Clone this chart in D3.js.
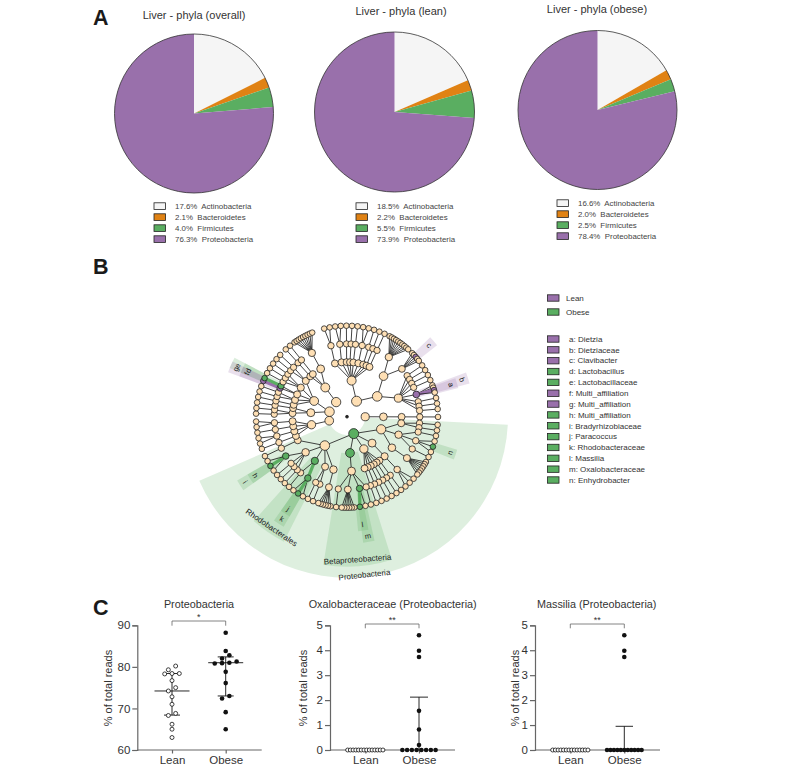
<!DOCTYPE html>
<html><head><meta charset="utf-8">
<script src="https://cdn.jsdelivr.net/npm/d3@7"></script>
<style>html,body{margin:0;background:#fff}svg{display:block;font-family:"Liberation Sans",Arial,sans-serif}</style>
</head><body><svg id="c" width="787" height="770"></svg>
<script>
// ---- Panel A data
const phylaNames = ["Actinobacteria","Bacteroidetes","Firmicutes","Proteobacteria"];
const phylaColors = ["#f5f5f5","#e08214","#5aae61","#9970ab"];
const pieTitles = ["Liver - phyla (overall)","Liver - phyla (lean)","Liver - phyla (obese)"];
const overallValues = [17.6,2.1,4.0,76.3];
const leanValues = [18.5,2.2,5.5,73.9];
const obeseValues = [16.6,2.0,2.5,78.4];

// ---- Panel B data: phylum = list of classes, class = list of orders, order = list of families; a number = genera in that family
const cladeActino = [
  [ [2], [2], [1], [1], [1], [2], [1], [1], [1] ],
  [ [10,5], [1,1,1,1,4,1,1,1] ]
];
const cladeSmall = [ [ [1] ] ];
const cladeProteo = [
  [ [1,1], [1,3,1], [7] ],
  [ [3] ],
  [ [1], [1], [1], [1], [1], [1] ],
  [ [1,2,6,1] ],
  [ [6], [1,1], [3,1], [1,1,1,3], [1] ]
];
const cladeLeftA = [ [ [1], [2], [1], [2] ] ];
const cladeLeftB = [ [ [1,1], [1] ], [ [1], [1,1], [1,1], [1,1,1], [1,1] ] ];
const cladeLeftC = [ [ [1], [1], [9] ] ];
const cladeList = [cladeActino,cladeSmall,cladeProteo,cladeLeftA,cladeLeftB,cladeLeftC];
const rootRotationDeg = -17;

// legend + biomarkers: letter, name, group, tree path (indices through the lists above)
const biomarkers = [
  ["a","Dietzia","Lean",[0,1,1,4,2]],
  ["b","Dietziaceae","Lean",[0,1,1,4]],
  ["c","Clavibacter","Lean",[0,1,0,1,2]],
  ["d","Lactobacillus","Obese",[4,1,2,1,0]],
  ["e","Lactobacillaceae","Obese",[4,1,2,1]],
  ["f","Multi_affiliation","Lean",[4,1,2,0,0]],
  ["g","Multi_affiliation","Lean",[4,1,2,0]],
  ["h","Multi_affiliation","Obese",[2,4,3,3,1]],
  ["i","Bradyrhizobiaceae","Obese",[2,4,3,3]],
  ["j","Paracoccus","Obese",[2,4,2,0,1]],
  ["k","Rhodobacteraceae","Obese",[2,4,2,0]],
  ["l","Massilia","Obese",[2,3,0,1,1]],
  ["m","Oxalobacteraceae","Obese",[2,3,0,1]],
  ["n","Enhydrobacter","Obese",[2,0,1,1,1]]
];
const namedClades = [
  ["Proteobacteria",[2]],
  ["Betaproteobacteria",[2,3]],
  ["Rhodobacterales",[2,4,2]]
];
const groupNames = ["Lean","Obese"];
const groupColors = {Lean:"#9970ab",Obese:"#5aae61"};

// ---- Panel C data
const scatterTitles = ["Proteobacteria","Oxalobacteraceae (Proteobacteria)","Massilia (Proteobacteria)"];
const xLabels = ["Lean","Obese"];
const proteoLean = [63,65,66.2,68.3,68.8,71,72.8,74.2,75,76.7,78.3,78.4,78.4,79.3,80.2];
const proteoObese = [65,69.1,72.4,73,76.1,78.8,80.8,80.9,81,81.3,82,82.8,83.8,88.2];
const oxaloLean = [0,0,0,0,0,0,0,0,0,0,0,0,0,0];
const oxaloObese = [0,0,0,0,0,0,0,0,0.2,0.82,1.57,3.73,3.98,4.6];
const massLean = [0,0,0,0,0,0,0,0,0,0,0,0,0,0];
const massObese = [0,0,0,0,0,0,0,0,0,0,0,3.73,3.98,4.6];
const proteoStats = {Lean:[68.4,74.2,78.4],Obese:[73,81,82.4]};
const oxaloStats = {Lean:[0,0,0],Obese:[0,0,2.12]};
const massStats = {Lean:[0,0,0],Obese:[0,0,0.95]};
const yTicksProteo = [60,70,80,90];
const yTicksPct = [0,1,2,3,4,5];

// ---------------- drawing
const svg = d3.select("#c");
const ink = "#333";
const txt = (g,x,y,s,size,o={}) => g.append("text").attr("x",x).attr("y",y).attr("font-size",size)
  .attr("fill",o.fill||ink).attr("text-anchor",o.anchor||"start").attr("font-weight",o.weight||null)
  .attr("transform",o.rot!=null?`rotate(${o.rot} ${x} ${y})`:null).style("white-space","pre").text(s);

["A","B","C"].forEach((l,i)=>txt(svg,93,[25,274,615][i],l,21.5,{fill:"#1a1a1a",weight:700}));

// Panel A
const pieLayouts = [
 {vals:overallValues,cx:194,cy:113.5,r:79.5,tx:194,ty:19,lx:154,ly:206},
 {vals:leanValues,cx:394.5,cy:112,r:80,tx:401,ty:15,lx:356,ly:206},
 {vals:obeseValues,cx:597.5,cy:110,r:79.5,tx:597,ty:13,lx:557,ly:203}];
pieLayouts.forEach((p,i)=>{
  const g=svg.append("g");
  txt(g,p.tx,p.ty,pieTitles[i],11,{anchor:"middle"});
  const arcs=d3.pie().sort(null)(p.vals);
  const arc=d3.arc().innerRadius(0).outerRadius(p.r);
  g.append("g").attr("transform",`translate(${p.cx},${p.cy})`).selectAll("path").data(arcs).join("path")
    .attr("d",arc).attr("fill",(d,k)=>phylaColors[k]);
  g.append("circle").attr("cx",p.cx).attr("cy",p.cy).attr("r",p.r).attr("fill","none").attr("stroke","#333").attr("stroke-width",.8);
  const y=d3.scalePoint().domain(d3.range(4)).range([p.ly,p.ly+33]);
  phylaNames.forEach((n,k)=>{
    g.append("rect").attr("x",p.lx).attr("y",y(k)-3.2).attr("width",11.5).attr("height",6.6).attr("fill",phylaColors[k]).attr("stroke","#222").attr("stroke-width",.8);
    txt(g,p.lx+21,y(k)+3,`${p.vals[k].toFixed(1)}%  ${n}`,7.9,{fill:"#444"});
  });
});

// Panel B
const CX=347, CY=416.7;
const ring=d3.scaleLinear().domain([0,5]).range([0,91]);
function toNode(item){
  if(typeof item==="number") return {children:d3.range(item).map(()=>({}))};
  return {children:item.map(toNode)};
}
const rootData={children:cladeList.map(toNode)};
const get=p=>p.reduce((n,i)=>n.children[i],rootData);
biomarkers.forEach(b=>{const n=get(b[3]);n.group=b[2];n.letter=b[0];n.mark=true;});
const root=d3.hierarchy(rootData);
const tightPair=(a,b)=>a.data.group&&b.data.group&&a.depth===5&&b.depth===5;
d3.cluster().size([357,1]).separation((a,b)=>{
  if(tightPair(a,b)) return .55;
  if(a.parent===b.parent&&a.parent.children.length>=4) return .45;
  const pa=a.ancestors().find(n=>n.depth===1),pb=b.ancestors().find(n=>n.depth===1);
  return pa!==pb?1.4:1;
})(root);
const ang=d=>d.x+rootRotationDeg;
const rad=a=>a*Math.PI/180;
const px=(a,r)=>CX+r*Math.sin(rad(a)), py=(a,r)=>CY-r*Math.cos(rad(a));
const all=root.descendants();
const nodeOf=p=>{let n=root;p.forEach(i=>n=n.children[i]);return n;};
const midAngle=n=>{const l=n.leaves();return (d3.min(l,ang)+d3.max(l,ang))/2;};
const wedgeOuter=[0,161,150,140,127,115];
const arcGen=d3.arc();
const wedges=svg.append("g").attr("transform",`translate(${CX},${CY})`);
function wedge(n,color,alpha,padMin){
  const ls=n.leaves(), a0=d3.min(ls,ang)-2.2, a1=d3.max(ls,ang)+2.2, mid=ang(n);
  const s=Math.min(a0,mid-padMin), e=Math.max(a1,mid+padMin);
  wedges.append("path").attr("d",arcGen({innerRadius:n.depth===1?ring(1):ring(n.depth),outerRadius:wedgeOuter[n.depth],startAngle:rad(s),endAngle:rad(e)}))
    .attr("fill",color).attr("fill-opacity",alpha);
}
namedClades.forEach(c=>wedge(nodeOf(c[1]),"#5aae61",.2,2));
biomarkers.forEach(b=>{
  const n=nodeOf(b[3]);
  wedges.append("path").attr("d",arcGen({innerRadius:ring(n.depth),outerRadius:wedgeOuter[n.depth],startAngle:rad(ang(n)-2.6),endAngle:rad(ang(n)+2.6)}))
    .attr("fill",groupColors[b[2]]).attr("fill-opacity",.22);
});
const tree=svg.append("g");
const greenExtra=[[2],[2,3],[2,4,2]].map(nodeOf);
const rhodo=nodeOf([2,4,2]);
const heavy=d=>d.target.data.mark&&(d.source.data.mark||d.source===rhodo);
tree.selectAll("line").data(root.links().filter(d=>d.source.depth>0)).join("line")
  .attr("x1",d=>px(ang(d.source),ring(d.source.depth))).attr("y1",d=>py(ang(d.source),ring(d.source.depth)))
  .attr("x2",d=>px(ang(d.target),ring(d.target.depth))).attr("y2",d=>py(ang(d.target),ring(d.target.depth)))
  .attr("stroke",d=>heavy(d)?groupColors[d.target.data.group]:"#222")
  .attr("stroke-width",d=>heavy(d)?3.2:.85);
const baseR=[1.4,4,3.8,3.4,3.1,2.8];
const nodeR=d=>d.depth===0?1.4:baseR[d.depth]+Math.min(1,0.06*d.leaves().length)*(d.depth<5?1:0);
tree.selectAll("circle").data(all).join("circle")
  .attr("cx",d=>px(ang(d),ring(d.depth))).attr("cy",d=>py(ang(d),ring(d.depth))).attr("r",nodeR)
  .attr("fill",d=>d.depth===0?"#222":greenExtra.includes(d)?"#5aae61":d.data.group?groupColors[d.data.group]:"#fedfb4")
  .attr("stroke","#222").attr("stroke-width",.8);
const labels=svg.append("g");
const rotFor=a=>{const t=((a%360)+360)%360;return t>90&&t<270?t-180:t;};
biomarkers.forEach(b=>{
  const n=nodeOf(b[3]),a=ang(n),r=wedgeOuter[n.depth]-6;
  labels.append("text").attr("transform",`translate(${px(a,r)},${py(a,r)}) rotate(${rotFor(a)})`)
    .attr("text-anchor","middle").attr("dy","0.35em").attr("font-size",7.5).attr("fill","#222").text(b[0]);
});
const labelInset=[0,2,7,6], labelNudge=[0,4,0,0];
namedClades.forEach(c=>{
  const n=nodeOf(c[1]),a=midAngle(n)+labelNudge[n.depth],r=wedgeOuter[n.depth]-labelInset[n.depth];
  labels.append("text").attr("transform",`translate(${px(a,r)},${py(a,r)}) rotate(${rotFor(a)})`)
    .attr("text-anchor","middle").attr("dy","0.35em").attr("font-size",8).attr("fill","#222").text(c[0]);
});
// legend
const lg=svg.append("g");
const box=(y,c)=>lg.append("rect").attr("x",547.5).attr("y",y-3.2).attr("width",11.5).attr("height",6.4).attr("fill",c).attr("stroke","#222").attr("stroke-width",.8);
groupNames.forEach((n,i)=>{const y=[298,312][i];box(y,groupColors[n]);txt(lg,566,y+2.8,n,8,{fill:"#333"});});
const ly=d3.scalePoint().domain(d3.range(biomarkers.length)).range([339,480]);
biomarkers.forEach((b,i)=>{box(ly(i),groupColors[b[2]]);txt(lg,569,ly(i)+2.8,`${b[0]}: ${b[1]}`,8,{fill:"#333"});});

// Panel C
function columns(vals,binGap){
  const s=[...vals].sort((a,b)=>a-b), out=[]; let i=0;
  while(i<s.length){
    let j=i; while(j+1<s.length&&s[j+1]-s[i]<binGap) j++;
    const n=j-i+1, step=Math.min(7.3,38/n);
    for(let k=0;k<n;k++) out.push([s[i+k],(k-(n-1)/2)*step]);
    i=j+1;
  }
  return out;
}
const axisGray="#666";
const panels=[
 {ax:137.3,xEnd:261.7,xs:[172,225.7],dom:[60,90],ticks:yTicksProteo,sets:[proteoLean,proteoObese],stats:proteoStats,gap:.95,tcx:199,yt:112,brY:621,brD:4.7,star:"*",medW:17.5,capW:8},
 {ax:330,xEnd:455,xs:[365.3,419],dom:[0,5],ticks:yTicksPct,sets:[oxaloLean,oxaloObese],stats:oxaloStats,gap:.1,tcx:392.7,yt:307,brY:624,brD:4.3,star:"**",medW:0,capW:9},
 {ax:535,xEnd:660,xs:[570.3,624.3],dom:[0,5],ticks:yTicksPct,sets:[massLean,massObese],stats:massStats,gap:.1,tcx:596.7,yt:519,brY:624,brD:4.3,star:"**",medW:0,capW:8.7}];
panels.forEach((p,pi)=>{
  const g=svg.append("g");
  const y=d3.scaleLinear().domain(p.dom).range([750,625.3]);
  const x=d3.scalePoint().domain(xLabels).range(p.xs);
  const yAxis=g.append("g").attr("transform",`translate(${p.ax},0)`).call(d3.axisLeft(y).tickValues(p.ticks).tickSize(5).tickPadding(2).tickFormat(d3.format("d")));
  const xAxis=g.append("g").attr("transform","translate(0,750)").call(d3.axisBottom(x).tickSize(3.5).tickPadding(2.5));
  xAxis.select(".domain").attr("d",`M${p.ax},0H${p.xEnd}`);
  [yAxis,xAxis].forEach(a=>{a.selectAll(".domain,line").attr("stroke",axisGray).attr("stroke-width",1.2);
    a.selectAll("text").attr("font-size",11.5).attr("font-family","Liberation Sans").attr("fill",ink);});
  txt(g,p.yt,688,"% of total reads",11,{anchor:"middle",rot:-90});
  txt(g,p.tcx,607.8,scatterTitles[pi],10.8,{anchor:"middle"});
  g.append("path").attr("d",`M${p.xs[0]},${p.brY+p.brD}V${p.brY}H${p.xs[1]}V${p.brY+p.brD}`).attr("fill","none").attr("stroke","#666").attr("stroke-width",.8);
  txt(g,(p.xs[0]+p.xs[1])/2,p.brY-1,p.star,9,{anchor:"middle"});
  xLabels.forEach((lab,k)=>{
    const cx=x(lab), st=p.stats[lab];
    if(st[2]>st[0]){
      g.append("path").attr("d",`M${cx},${y(st[0])}V${y(st[2])}M${cx-p.capW},${y(st[2])}H${cx+p.capW}`+(st[0]>p.dom[0]?`M${cx-p.capW},${y(st[0])}H${cx+p.capW}`:"")).attr("stroke","#111").attr("fill","none").attr("stroke-width",.9);
      if(p.medW) g.append("path").attr("d",`M${cx-p.medW},${y(st[1])}H${cx+p.medW}`).attr("stroke","#111").attr("stroke-width",.9);
    }
    g.selectAll(null).data(columns(p.sets[k],p.gap)).join("circle")
      .attr("cx",d=>cx+d[1]).attr("cy",d=>y(d[0])).attr("r",k===0?2:2.3)
      .attr("fill",k===0?"#fff":"#111").attr("stroke","#111").attr("stroke-width",k===0?.8:0);
  });
});
</script></body></html>
